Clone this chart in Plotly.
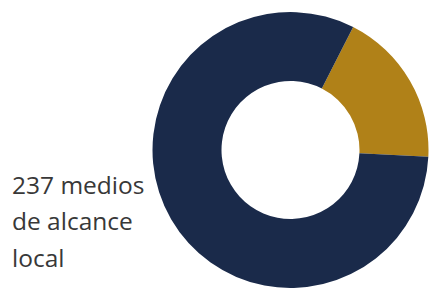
import plotly.graph_objects as go

labels = ["Otros medios", "Medios de alcance local"]
values = [53, 237]
colors = ["#b08118", "#1a2a4a"]
text_lines = ["237 medios", "de alcance", "local"]

W, H = 429, 288

fig = go.Figure(go.Pie(
    labels=labels,
    values=values,
    hole=0.5,
    sort=False,
    direction="clockwise",
    rotation=27,
    marker=dict(colors=colors, line=dict(width=0)),
    textinfo="none",
    hoverinfo="label+value",
    domain=dict(x=[152 / W, 1.0], y=[0.0, 1 - 12 / H]),
    showlegend=False,
))

line_centers = [184.5, 220.5, 257.5]
for txt, py in zip(text_lines, line_centers):
    fig.add_annotation(
        text=txt, x=10 / W, y=1 - py / H, xref="paper", yref="paper",
        xanchor="left", yanchor="middle", showarrow=False,
        font=dict(family="Open Sans", size=24.5, color="#383838"),
    )

fig.update_layout(
    width=W, height=H,
    margin=dict(l=0, r=0, t=0, b=0),
    paper_bgcolor="white", plot_bgcolor="white",
)

fig.write_html(
    "out.html",
    config={"displayModeBar": False},
    post_script="document.body.style.margin='0';document.body.style.overflow='hidden';",
)
